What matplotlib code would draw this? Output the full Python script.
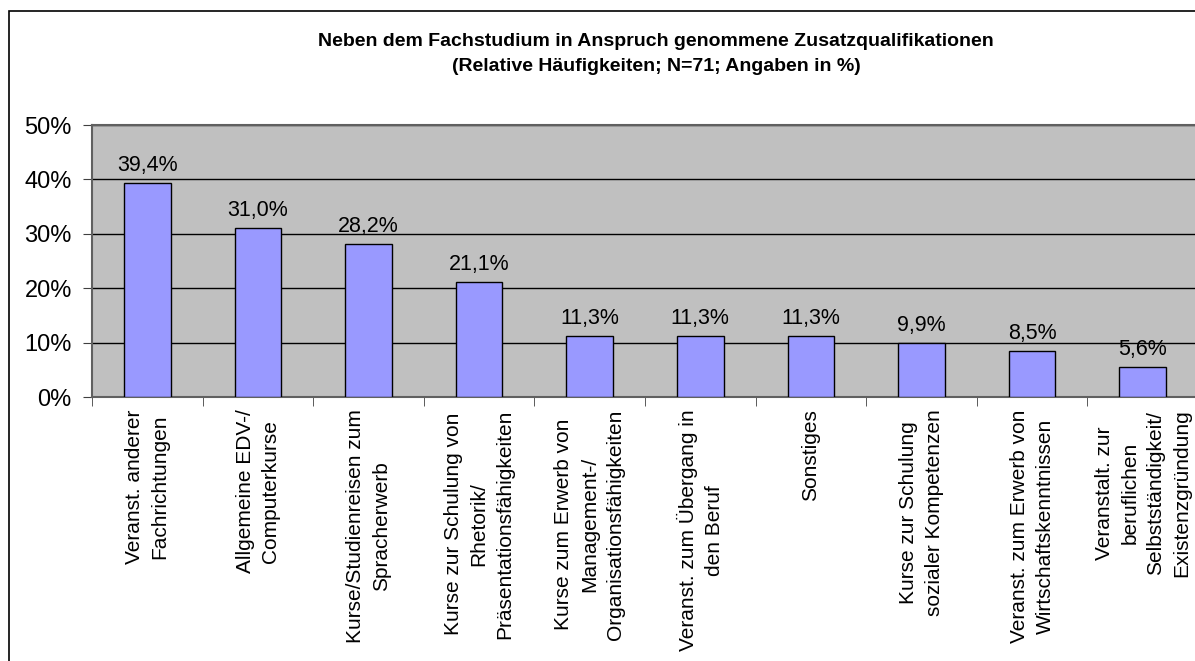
import matplotlib.pyplot as plt
from matplotlib.patches import Rectangle
from matplotlib.ticker import FixedLocator, PercentFormatter

plt.rcParams['font.family'] = ['Liberation Sans', 'DejaVu Sans']

# Kategorien und Werte (Angaben in %)
kategorien = [
    "Veranst. anderer\nFachrichtungen",
    "Allgemeine EDV-/\nComputerkurse",
    "Kurse/Studienreisen zum\nSpracherwerb",
    "Kurse zur Schulung von\nRhetorik/\nPräsentationsfähigkeiten",
    "Kurse zum Erwerb von\nManagement-/\nOrganisationsfähigkeiten",
    "Veranst. zum Übergang in\nden Beruf",
    "Sonstiges",
    "Kurse zur Schulung\nsozialer Kompetenzen",
    "Veranst. zum Erwerb von\nWirtschaftskenntnissen",
    "Veranstalt. zur\nberuflichen\nSelbstständigkeit/\nExistenzgründung",
]
werte = [39.4, 31.0, 28.2, 21.1, 11.3, 11.3, 11.3, 9.9, 8.5, 5.6]
y_ticks = [0, 10, 20, 30, 40, 50]

titel = ("Neben dem Fachstudium in Anspruch genommene Zusatzqualifikationen\n"
         "(Relative Häufigkeiten; N=71; Angaben in %)")

fig = plt.figure(figsize=(11.95, 6.61), dpi=100)
ax = fig.add_axes([92/1195, 1 - 397/661, (1198 - 92)/1195, (397 - 125)/661])

# Rahmen um das ganze Diagramm
fig.patches.append(Rectangle((9/1195, -0.05), 1.2, 1 - 11/661 + 0.05,
                             transform=fig.transFigure, fill=False,
                             edgecolor='black', linewidth=1.2))

x = list(range(len(werte)))
ax.set_facecolor('#C0C0C0')
ax.bar(x, werte, width=0.42, color='#9999FF', edgecolor='black', linewidth=1, zorder=3)

for xi, w in zip(x, werte):
    ax.annotate(f"{w:.1f}%".replace('.', ','), (xi, w), xytext=(0, 5),
                textcoords='offset points', ha='center', va='bottom', fontsize=15.5)

ax.set_xlim(-0.5, len(werte) - 0.5)
ax.set_ylim(0, 50)
ax.yaxis.set_major_locator(FixedLocator(y_ticks))
ax.yaxis.set_major_formatter(PercentFormatter(decimals=0))
ax.grid(axis='y', color='black', linewidth=1, zorder=1)

ax.set_xticks(x)
ax.set_xticklabels(kategorien, rotation=90, va='top', ha='center',
                   multialignment='center', fontsize=15, linespacing=1.45)
ax.set_xticks([i - 0.5 for i in range(len(werte) + 1)], minor=True)
ax.tick_params(axis='x', which='major', length=0, pad=9)
ax.tick_params(axis='x', which='minor', length=6.5, color='#404040')
ax.tick_params(axis='y', length=6.5, color='#404040', labelsize=17, pad=8)

for s in ['left', 'bottom', 'top']:
    ax.spines[s].set_color('#606060')
    ax.spines[s].set_linewidth(1.5)
ax.spines['right'].set_visible(False)

fig.text(656/1195, 1 - 54/661, titel, ha='center', va='center',
         fontsize=14, fontweight='bold', linespacing=1.55)

fig.savefig('out.png', dpi=100)
